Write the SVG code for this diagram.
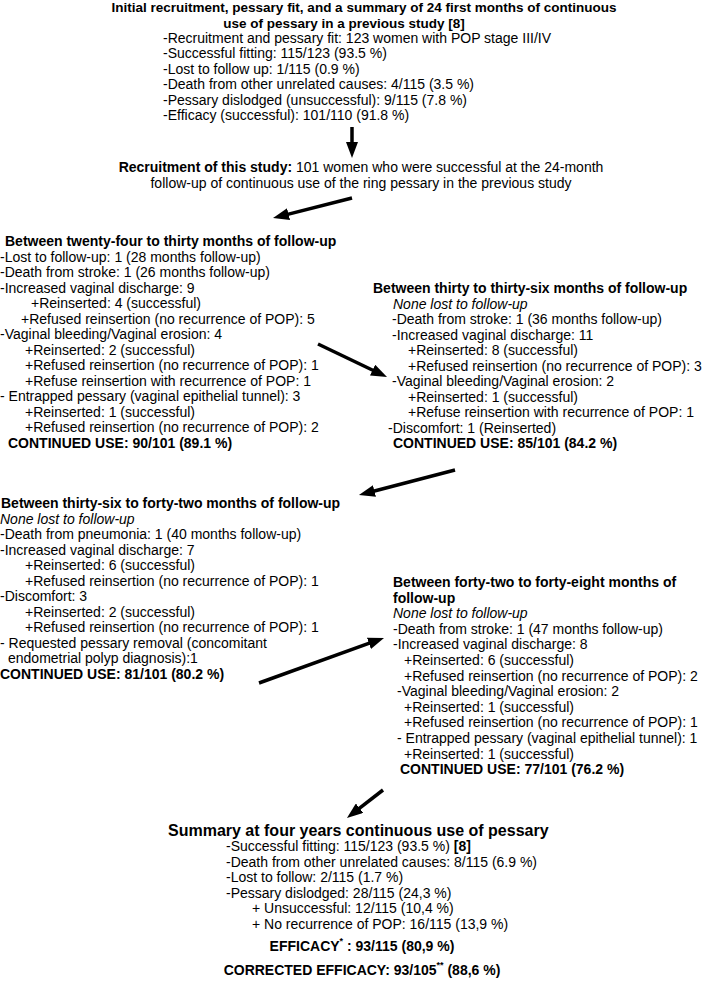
<svg xmlns="http://www.w3.org/2000/svg" width="707" height="988" viewBox="0 0 707 988">
<style>
text{font-family:"Liberation Sans",Arial,Helvetica,sans-serif;font-size:14px;fill:#000}
.b{font-weight:bold}
.i{font-style:italic}
.h{font-weight:bold;font-size:16px}
.t{font-weight:bold;font-size:13.5px}
.c{text-anchor:middle}
.arr{stroke:#000;stroke-width:3.5;fill:none;marker-end:url(#ah)}
</style>
<defs>
<marker id="ah" markerUnits="userSpaceOnUse" markerWidth="16" markerHeight="12" refX="2" refY="6" orient="auto">
<path d="M0,0 L16,6 L0,12 z" fill="#000"/>
</marker>
</defs>
<rect width="707" height="988" fill="#fff"/>
<g id="node-initial">
<text class="t c" x="364" y="12">Initial recruitment, pessary fit, and a summary of 24 first months of continuous</text>
<text class="t c" x="344" y="27.5">use of pessary in a previous study [8]</text>
<text x="163" y="42.5">-Recruitment and pessary fit: 123 women with POP stage III/IV</text>
<text x="163" y="58">-Successful fitting: 115/123 (93.5 %)</text>
<text x="163" y="73.5">-Lost to follow up: 1/115 (0.9 %)</text>
<text x="163" y="89">-Death from other unrelated causes: 4/115 (3.5 %)</text>
<text x="163" y="104.5">-Pessary dislodged (unsuccessful): 9/115 (7.8 %)</text>
<text x="163" y="120">-Efficacy (successful): 101/110 (91.8 %)</text>
</g>
<g id="node-recruitment">
<text class="c" x="361" y="172"><tspan class="b">Recruitment of this study:</tspan> 101 women who were successful at the 24-month</text>
<text class="c" x="361" y="188">follow-up of continuous use of the ring pessary in the previous study</text>
</g>
<g id="node-24-30">
<text class="b" x="5" y="246">Between twenty-four to thirty months of follow-up</text>
<text x="0" y="261.5">-Lost to follow-up: 1 (28 months follow-up)</text>
<text x="0" y="277">-Death from stroke: 1 (26 months follow-up)</text>
<text x="0" y="292.5">-Increased vaginal discharge: 9</text>
<text x="31" y="308">+Reinserted: 4 (successful)</text>
<text x="21" y="323.5">+Refused reinsertion (no recurrence of POP): 5</text>
<text x="0" y="339">-Vaginal bleeding/Vaginal erosion: 4</text>
<text x="25" y="354.5">+Reinserted: 2 (successful)</text>
<text x="25" y="370">+Refused reinsertion (no recurrence of POP): 1</text>
<text x="25" y="385.5">+Refuse reinsertion with recurrence of POP: 1</text>
<text x="0" y="401">- Entrapped pessary (vaginal epithelial tunnel): 3</text>
<text x="25" y="416.5">+Reinserted: 1 (successful)</text>
<text x="25" y="432">+Refused reinsertion (no recurrence of POP): 2</text>
<text class="b" x="8" y="447.5">CONTINUED USE: 90/101 (89.1 %)</text>
</g>
<g id="node-30-36">
<text class="b" x="373" y="293">Between thirty to thirty-six months of follow-up</text>
<text class="i" x="393" y="308.5">None lost to follow-up</text>
<text x="392" y="324">-Death from stroke: 1 (36 months follow-up)</text>
<text x="392" y="339.5">-Increased vaginal discharge: 11</text>
<text x="408" y="355">+Reinserted: 8 (successful)</text>
<text x="408" y="370.5">+Refused reinsertion (no recurrence of POP): 3</text>
<text x="392" y="386">-Vaginal bleeding/Vaginal erosion: 2</text>
<text x="408" y="401.5">+Reinserted: 1 (successful)</text>
<text x="408" y="417">+Refuse reinsertion with recurrence of POP: 1</text>
<text x="388" y="432.5">-Discomfort: 1 (Reinserted)</text>
<text class="b" x="393" y="448">CONTINUED USE: 85/101 (84.2 %)</text>
</g>
<g id="node-36-42">
<text class="b" x="1" y="508">Between thirty-six to forty-two months of follow-up</text>
<text class="i" x="0" y="523.5">None lost to follow-up</text>
<text x="0" y="539">-Death from pneumonia: 1 (40 months follow-up)</text>
<text x="0" y="554.5">-Increased vaginal discharge: 7</text>
<text x="25" y="570">+Reinserted: 6 (successful)</text>
<text x="25" y="585.5">+Refused reinsertion (no recurrence of POP): 1</text>
<text x="0" y="601">-Discomfort: 3</text>
<text x="25" y="616.5">+Reinserted: 2 (successful)</text>
<text x="25" y="632">+Refused reinsertion (no recurrence of POP): 1</text>
<text x="0" y="647.5">- Requested pessary removal (concomitant</text>
<text x="8" y="663">endometrial polyp diagnosis):1</text>
<text class="b" x="0" y="678.5">CONTINUED USE: 81/101 (80.2 %)</text>
</g>
<g id="node-42-48">
<text class="b" x="393" y="587">Between forty-two to forty-eight months of</text>
<text class="b" x="393" y="602.6">follow-up</text>
<text class="i" x="393" y="618.2">None lost to follow-up</text>
<text x="393" y="633.8">-Death from stroke: 1 (47 months follow-up)</text>
<text x="393" y="649.4">-Increased vaginal discharge: 8</text>
<text x="404" y="665">+Reinserted: 6 (successful)</text>
<text x="404" y="680.6">+Refused reinsertion (no recurrence of POP): 2</text>
<text x="397" y="696.2">-Vaginal bleeding/Vaginal erosion: 2</text>
<text x="404" y="711.8">+Reinserted: 1 (successful)</text>
<text x="404" y="727.4">+Refused reinsertion (no recurrence of POP): 1</text>
<text x="397" y="743">- Entrapped pessary (vaginal epithelial tunnel): 1</text>
<text x="404" y="758.6">+Reinserted: 1 (successful)</text>
<text class="b" x="400" y="774.2">CONTINUED USE: 77/101 (76.2 %)</text>
</g>
<g id="node-summary">
<text class="h" x="168" y="836">Summary at four years continuous use of pessary</text>
<text x="226" y="851">-Successful fitting: 115/123 (93.5 %) <tspan class="b">[8]</tspan></text>
<text x="226" y="867">-Death from other unrelated causes: 8/115 (6.9 %)</text>
<text x="226" y="882">-Lost to follow: 2/115 (1.7 %)</text>
<text x="226" y="898">-Pessary dislodged: 28/115 (24,3 %)</text>
<text x="252" y="913">+ Unsuccessful: 12/115 (10,4 %)</text>
<text x="252" y="929">+ No recurrence of POP: 16/115 (13,9 %)</text>
<text class="b c" x="362" y="951">EFFICACY<tspan dy="-7" font-size="9">*</tspan><tspan dy="7"> : 93/115 (80,9 %)</tspan></text>
<text class="b c" x="362" y="975">CORRECTED EFFICACY: 93/105<tspan dy="-7" font-size="9">**</tspan><tspan dy="7"> (88,6 %)</tspan></text>
</g>
<g id="connectors">
<line class="arr" x1="352" y1="127" x2="352" y2="144"/>
<line class="arr" x1="352" y1="198" x2="286.6" y2="214.6"/>
<line class="arr" x1="318" y1="344" x2="374.4" y2="371"/>
<line class="arr" x1="455" y1="470" x2="372.5" y2="491.5"/>
<line class="arr" x1="259" y1="683" x2="370.8" y2="642.7"/>
<line class="arr" x1="383" y1="790" x2="358" y2="809.4"/>
</g>
</svg>
